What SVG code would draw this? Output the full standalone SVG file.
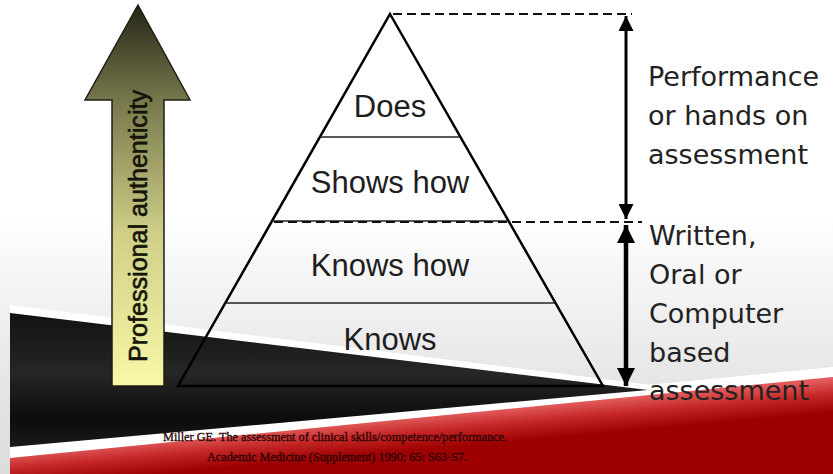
<svg xmlns="http://www.w3.org/2000/svg" width="833" height="474" viewBox="0 0 833 474">
  <style>
    .lbl { font-family: "Liberation Sans", Arial, sans-serif; font-size: 31px; fill: #1e1e1e; text-anchor: middle; }
    .side { font-family: "DejaVu Sans", Verdana, sans-serif; font-size: 27px; fill: #222; }
    .cite { font-family: "Liberation Serif", "Times New Roman", serif; font-size: 13px; fill: #2a0404; stroke: #2a0404; stroke-width: 0.3; }
    .dash { stroke: #111; stroke-width: 2; stroke-dasharray: 9 5; fill: none; }
    .lvl { stroke: #222; stroke-width: 1.6; fill: none; }
  </style>
  <defs>
    <linearGradient id="bg" x1="0" y1="0" x2="0" y2="474" gradientUnits="userSpaceOnUse">
      <stop offset="0" stop-color="#ffffff"/>
      <stop offset="0.45" stop-color="#ffffff"/>
      <stop offset="0.8" stop-color="#e6e6e6"/>
      <stop offset="1" stop-color="#dcdcdc"/>
    </linearGradient>
    <linearGradient id="blk" x1="0" y1="313" x2="0" y2="447" gradientUnits="userSpaceOnUse">
      <stop offset="0" stop-color="#121212"/>
      <stop offset="0.45" stop-color="#262626"/>
      <stop offset="0.8" stop-color="#0c0c0c"/>
      <stop offset="1" stop-color="#1a1a1a"/>
    </linearGradient>
    <linearGradient id="red" x1="420" y1="417" x2="423" y2="450" gradientUnits="userSpaceOnUse">
      <stop offset="0" stop-color="#e25a5a"/>
      <stop offset="0.45" stop-color="#c42626"/>
      <stop offset="1" stop-color="#9e0000"/>
    </linearGradient>
    <linearGradient id="arr" x1="0" y1="5" x2="0" y2="386" gradientUnits="userSpaceOnUse">
      <stop offset="0" stop-color="#252518"/>
      <stop offset="0.25" stop-color="#77774c"/>
      <stop offset="0.6" stop-color="#cfcf88"/>
      <stop offset="1" stop-color="#f8f8a8"/>
    </linearGradient>
    <marker id="ah" viewBox="0 0 10 10" refX="10" refY="5" markerWidth="5" markerHeight="5" orient="auto-start-reverse" markerUnits="strokeWidth">
      <path d="M0,0 L10,5 L0,10 z" fill="#000"/>
    </marker>
    <marker id="ah2" viewBox="0 0 10 10" refX="10" refY="5" markerWidth="4" markerHeight="4" orient="auto-start-reverse" markerUnits="strokeWidth">
      <path d="M0,0 L10,5 L0,10 z" fill="#000"/>
    </marker>
  </defs>

  <!-- background -->
  <rect x="0" y="0" width="833" height="474" fill="url(#bg)"/>
  <g id="floor">
    <polygon points="10,305 660,386 660,394 10,313" fill="#ffffff"/>
    <polygon points="10,447 833,367 833,377 10,458" fill="#ffffff"/>
    <polygon points="10,313 648,390 10,447" fill="url(#blk)"/>
    <polygon points="10,458 833,377 833,474 10,474" fill="url(#red)"/>
  </g>

  <!-- professional authenticity arrow -->
  <g id="authenticity-arrow">
    <polygon points="138,5 190,100 164,100 164,386 112,386 112,100 85,100" fill="url(#arr)" stroke="#1e1e14" stroke-width="1.5" stroke-linejoin="miter"/>
    <text x="0" y="0" transform="translate(147,226) rotate(-90)" font-family="Liberation Sans, Arial, sans-serif" font-size="25" fill="#141408" stroke="#141408" stroke-width="0.6" text-anchor="middle" textLength="272" lengthAdjust="spacingAndGlyphs">Professional authenticity</text>
  </g>

  <!-- pyramid -->
  <g id="pyramid">
    <polygon points="390,14 603,386 178,386" fill="none" stroke="#000" stroke-width="2.5" stroke-linejoin="miter"/>
    <line class="lvl" x1="320" y1="137" x2="460" y2="137"/>
    <line class="lvl" x1="272" y1="221" x2="508" y2="221"/>
    <line class="lvl" x1="225" y1="303" x2="555" y2="303"/>
  </g>
  <g id="level-does"><text class="lbl" x="390" y="117">Does</text></g>
  <g id="level-shows-how"><text class="lbl" x="390" y="193">Shows how</text></g>
  <g id="level-knows-how"><text class="lbl" x="390" y="276">Knows how</text></g>
  <g id="level-knows"><text class="lbl" x="390" y="350">Knows</text></g>

  <!-- connectors -->
  <g id="connectors">
    <line class="dash" x1="393" y1="14" x2="632" y2="14"/>
    <line class="dash" x1="274" y1="222" x2="642" y2="222"/>
    <line x1="626" y1="16" x2="626" y2="219" stroke="#000" stroke-width="3" marker-start="url(#ah)" marker-end="url(#ah)"/>
    <line x1="626" y1="225" x2="626" y2="386" stroke="#000" stroke-width="4.5" marker-start="url(#ah2)" marker-end="url(#ah2)"/>
  </g>

  <g id="label-performance">
    <text class="side" x="648" y="86">Performance</text>
    <text class="side" x="648" y="125">or hands on</text>
    <text class="side" x="648" y="164">assessment</text>
  </g>
  <g id="label-written">
    <text class="side" x="649" y="245">Written,</text>
    <text class="side" x="649" y="284">Oral or</text>
    <text class="side" x="649" y="323">Computer</text>
    <text class="side" x="649" y="362">based</text>
    <text class="side" x="649" y="400">assessment</text>
  </g>

  <g id="citation">
    <text class="cite" x="163" y="441" textLength="344" lengthAdjust="spacingAndGlyphs">Miller GE. The assessment of clinical skills/competence/performance.</text>
    <text class="cite" x="207" y="461" textLength="260" lengthAdjust="spacingAndGlyphs">Academic Medicine (Supplement) 1990; 65: S63-S7.</text>
  </g>
</svg>
